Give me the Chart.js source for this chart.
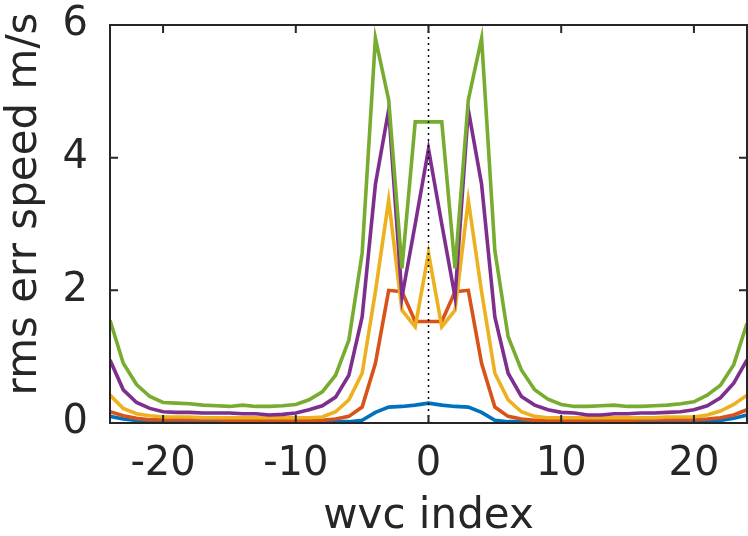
<!DOCTYPE html>
<html>
<head>
<meta charset="utf-8">
<script src="https://cdn.jsdelivr.net/npm/chart.js@4/dist/chart.umd.min.js"></script>
<style>
  html, body { margin: 0; padding: 0; background: #fff; }
  #wrap { width: 748px; height: 536px; }
</style>
</head>
<body>
<div id="wrap"><canvas id="myChart" width="748" height="536"></canvas></div>
<script>
// wvc index, -24 .. 24
const wvcIndex = [-24, -23, -22, -21, -20, -19, -18, -17, -16, -15, -14, -13, -12, -11, -10, -9, -8, -7, -6, -5, -4, -3, -2, -1, 0,
                  1, 2, 3, 4, 5, 6, 7, 8, 9, 10, 11, 12, 13, 14, 15, 16, 17, 18, 19, 20, 21, 22, 23, 24];

// rms err speed (m/s), one list per curve
const blueErr = [0.10, 0.06, 0.04, 0.03, 0.02, 0.02, 0.02, 0.02, 0.02, 0.02, 0.02, 0.02, 0.02, 0.02, 0.02, 0.02, 0.02, 0.02, 0.02, 0.04, 0.16, 0.24, 0.25, 0.27, 0.30,
                 0.27, 0.25, 0.24, 0.16, 0.04, 0.02, 0.02, 0.02, 0.02, 0.02, 0.02, 0.02, 0.02, 0.02, 0.02, 0.02, 0.02, 0.02, 0.02, 0.02, 0.03, 0.04, 0.07, 0.12];
const orangeErr = [0.17, 0.11, 0.07, 0.05, 0.05, 0.05, 0.05, 0.05, 0.05, 0.04, 0.04, 0.04, 0.04, 0.04, 0.04, 0.04, 0.04, 0.06, 0.10, 0.24, 0.90, 2.00, 1.98, 1.53, 1.53,
                   1.53, 1.98, 2.00, 0.90, 0.24, 0.10, 0.06, 0.04, 0.04, 0.04, 0.04, 0.04, 0.04, 0.04, 0.04, 0.05, 0.05, 0.05, 0.05, 0.05, 0.06, 0.08, 0.12, 0.20];
const yellowErr = [0.42, 0.22, 0.14, 0.11, 0.09, 0.09, 0.09, 0.08, 0.08, 0.08, 0.08, 0.08, 0.08, 0.08, 0.08, 0.08, 0.09, 0.17, 0.35, 0.75, 1.98, 3.36, 1.70, 1.45, 2.56,
                   1.45, 1.70, 3.36, 1.98, 0.75, 0.35, 0.17, 0.10, 0.08, 0.08, 0.08, 0.08, 0.08, 0.08, 0.08, 0.08, 0.08, 0.09, 0.09, 0.09, 0.12, 0.18, 0.28, 0.42];
const purpleErr = [0.95, 0.50, 0.31, 0.22, 0.17, 0.16, 0.16, 0.15, 0.15, 0.15, 0.14, 0.14, 0.12, 0.13, 0.15, 0.20, 0.26, 0.39, 0.72, 1.60, 3.60, 4.72, 1.90, 3.00, 4.13,
                   3.00, 1.90, 4.72, 3.60, 1.60, 0.75, 0.40, 0.27, 0.20, 0.16, 0.15, 0.12, 0.12, 0.14, 0.14, 0.15, 0.15, 0.16, 0.17, 0.20, 0.26, 0.38, 0.60, 0.95];
const greenErr = [1.55, 0.90, 0.58, 0.40, 0.31, 0.30, 0.29, 0.27, 0.26, 0.25, 0.27, 0.25, 0.25, 0.26, 0.28, 0.35, 0.47, 0.72, 1.25, 2.56, 5.80, 4.87, 2.33, 4.54, 4.54,
                  4.54, 2.33, 4.87, 5.80, 2.60, 1.30, 0.80, 0.50, 0.36, 0.28, 0.25, 0.25, 0.26, 0.27, 0.25, 0.25, 0.26, 0.27, 0.29, 0.32, 0.42, 0.57, 0.88, 1.50];

const xTicks = [-20, -10, 0, 10, 20];
const yTicks = [0, 2, 4, 6];
const centreLine = [0, 6];

function toPoints(ys) {
    return ys.map((y, i) => ({ x: wvcIndex[i], y: y }));
}

const ink = '#262626';

// box round the plot with inward ticks, like the original figure
const boxPlugin = {
    id: 'box',
    afterDatasetsDraw(chart) {
        const ctx = chart.ctx;
        const a = chart.chartArea;
        const xs = chart.scales.x;
        const ys = chart.scales.y;
        ctx.save();
        ctx.strokeStyle = ink;
        ctx.lineWidth = 2;
        ctx.beginPath();
        xTicks.forEach((v) => {
            const px = xs.getPixelForValue(v);
            ctx.moveTo(px, a.bottom); ctx.lineTo(px, a.bottom - 8);
            ctx.moveTo(px, a.top); ctx.lineTo(px, a.top + 8);
        });
        yTicks.forEach((v) => {
            const py = ys.getPixelForValue(v);
            ctx.moveTo(a.left, py); ctx.lineTo(a.left + 8, py);
            ctx.moveTo(a.right, py); ctx.lineTo(a.right - 8, py);
        });
        ctx.stroke();
        ctx.strokeRect(a.left, a.top, a.right - a.left, a.bottom - a.top);
        ctx.restore();
    }
};

const ctx = document.getElementById('myChart').getContext('2d');
const myChart = new Chart(ctx, {
    type: 'line',
    data: {
        datasets: [
            { data: [{ x: 0, y: centreLine[0] }, { x: 0, y: centreLine[1] }], borderColor: '#000', borderWidth: 1.5, borderDash: [2, 4], order: 0 },
            { data: toPoints(greenErr), borderColor: '#77AC30', order: 1 },
            { data: toPoints(purpleErr), borderColor: '#7E2F8E', order: 2 },
            { data: toPoints(yellowErr), borderColor: '#EDB120', order: 3 },
            { data: toPoints(orangeErr), borderColor: '#D95319', order: 4 },
            { data: toPoints(blueErr), borderColor: '#0072BD', order: 5 }
        ]
    },
    options: {
        responsive: false,
        animation: false,
        clip: true,
        layout: { padding: { top: 25, right: 1, left: 0, bottom: 0 } },
        elements: {
            point: { radius: 0 },
            line: { borderWidth: 3.6, tension: 0, borderJoinStyle: 'miter' }
        },
        plugins: { legend: { display: false }, tooltip: { enabled: false } },
        scales: {
            x: {
                type: 'linear',
                min: -24,
                max: 24,
                afterBuildTicks: (s) => { s.ticks = xTicks.map((v) => ({ value: v })); },
                afterFit: (s) => { s.height = 113; s.paddingLeft = 0; s.paddingRight = 0; },
                grid: { display: false },
                border: { display: false },
                ticks: { color: ink, font: { family: 'DejaVu Sans', size: 40 }, padding: 10, maxRotation: 0 },
                title: { display: true, text: 'wvc index', color: ink, font: { family: 'DejaVu Sans', size: 42, lineHeight: 0.9 }, padding: { top: 0, bottom: 0 } }
            },
            y: {
                min: 0,
                max: 6,
                afterBuildTicks: (s) => { s.ticks = yTicks.map((v) => ({ value: v })); },
                afterFit: (s) => { s.width = 110; s.paddingTop = 0; s.paddingBottom = 0; },
                grid: { display: false },
                border: { display: false },
                ticks: { color: ink, font: { family: 'DejaVu Sans', size: 40 }, padding: 14 },
                title: { display: true, text: '   rms err speed m/s', color: ink, font: { family: 'DejaVu Sans', size: 42 }, padding: { top: 0, bottom: 0 } }
            }
        }
    },
    plugins: [boxPlugin]
});
</script>
</body>
</html>
